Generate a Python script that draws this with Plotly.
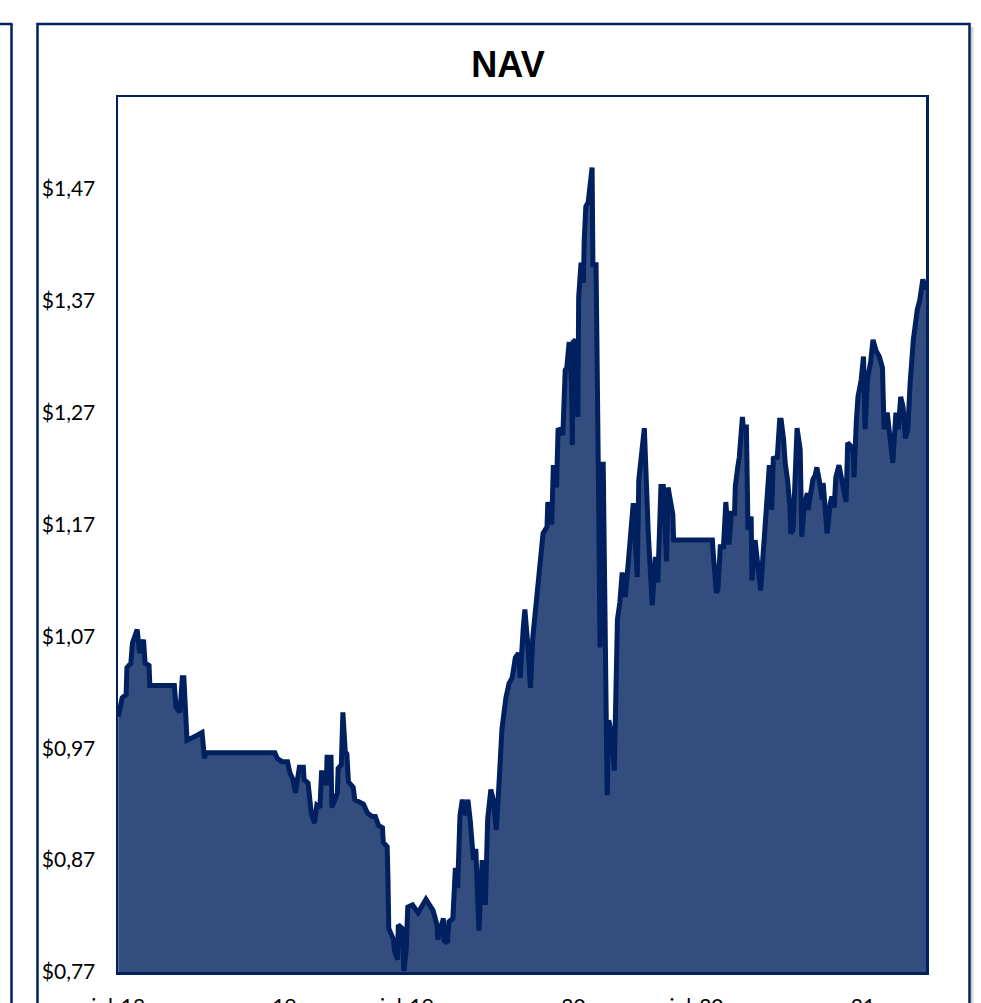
import plotly.graph_objects as go

dates = [
    "2018-07-01", "2018-07-06", "2018-07-11", "2018-07-12", "2018-07-17", "2018-07-19", "2018-07-25", "2018-07-28",
    "2018-08-02", "2018-08-04", "2018-08-09", "2018-08-10", "2018-09-10", "2018-09-12", "2018-09-17", "2018-09-20",
    "2018-09-22", "2018-09-26", "2018-10-10", "2018-10-15", "2018-10-18", "2018-10-20", "2019-01-15", "2019-01-18",
    "2019-01-24", "2019-01-31", "2019-02-03", "2019-02-07", "2019-02-10", "2019-02-15", "2019-02-20", "2019-02-21",
    "2019-02-26", "2019-03-02", "2019-03-06", "2019-03-09", "2019-03-13", "2019-03-15", "2019-03-17", "2019-03-21",
    "2019-03-22", "2019-03-27", "2019-03-28", "2019-04-04", "2019-04-05", "2019-04-09", "2019-04-11", "2019-04-14",
    "2019-04-16", "2019-04-18", "2019-04-24", "2019-04-26", "2019-05-07", "2019-05-12", "2019-05-18", "2019-05-22",
    "2019-05-26", "2019-05-31", "2019-06-01", "2019-06-06", "2019-06-07", "2019-06-08", "2019-06-14", "2019-06-15",
    "2019-06-19", "2019-06-20", "2019-06-25", "2019-06-27", "2019-06-30", "2019-07-02", "2019-07-08", "2019-07-15",
    "2019-07-25", "2019-08-03", "2019-08-08", "2019-08-09", "2019-08-16", "2019-08-17", "2019-08-21", "2019-08-23",
    "2019-08-28", "2019-08-31", "2019-09-02", "2019-09-03", "2019-09-06", "2019-09-09", "2019-09-13", "2019-09-16",
    "2019-09-19", "2019-09-23", "2019-09-26", "2019-09-30", "2019-10-04", "2019-10-08", "2019-10-11", "2019-10-15",
    "2019-10-18", "2019-10-22", "2019-10-27", "2019-10-29", "2019-11-03", "2019-11-07", "2019-11-11", "2019-11-15",
    "2019-11-19", "2019-11-21", "2019-11-25", "2019-11-27", "2019-12-01", "2019-12-04", "2019-12-07", "2019-12-12",
    "2019-12-16", "2019-12-20", "2019-12-25", "2019-12-26", "2019-12-31", "2020-01-02", "2020-01-06", "2020-01-08",
    "2020-01-14", "2020-01-15", "2020-01-17", "2020-01-19", "2020-01-22", "2020-01-25", "2020-01-26", "2020-01-27",
    "2020-01-30", "2020-02-02", "2020-02-03", "2020-02-06", "2020-02-09", "2020-02-10", "2020-02-12", "2020-02-15",
    "2020-02-16", "2020-02-20", "2020-02-21", "2020-02-25", "2020-02-28", "2020-03-01", "2020-03-05", "2020-03-07",
    "2020-03-10", "2020-03-12", "2020-03-16", "2020-03-19", "2020-03-21", "2020-03-23", "2020-03-26", "2020-03-29",
    "2020-04-02", "2020-04-07", "2020-04-12", "2020-04-17", "2020-04-19", "2020-04-26", "2020-05-01", "2020-05-06",
    "2020-05-10", "2020-05-13", "2020-05-17", "2020-05-20", "2020-05-24", "2020-05-26", "2020-06-01", "2020-06-02",
    "2020-07-21", "2020-07-22", "2020-07-26", "2020-07-28", "2020-07-31", "2020-08-04", "2020-08-05", "2020-08-07",
    "2020-08-11", "2020-08-14", "2020-08-18", "2020-08-19", "2020-08-22", "2020-08-24", "2020-08-28", "2020-08-29",
    "2020-09-02", "2020-09-04", "2020-09-08", "2020-09-09", "2020-09-13", "2020-09-16", "2020-09-20", "2020-09-22",
    "2020-09-26", "2020-09-29", "2020-10-01", "2020-10-04", "2020-10-06", "2020-10-11", "2020-10-14", "2020-10-16",
    "2020-10-19", "2020-10-21", "2020-10-24", "2020-10-27", "2020-10-28", "2020-10-31", "2020-11-05", "2020-11-09",
    "2020-11-11", "2020-11-14", "2020-11-18", "2020-11-19", "2020-11-25", "2020-11-28", "2020-11-30", "2020-12-03",
    "2020-12-07", "2020-12-08", "2020-12-10", "2020-12-13", "2020-12-17", "2020-12-19", "2020-12-22", "2020-12-24",
    "2020-12-28", "2021-01-01", "2021-01-02", "2021-01-06", "2021-01-08", "2021-01-12", "2021-01-15", "2021-01-16",
    "2021-01-19", "2021-01-21", "2021-01-25", "2021-01-28", "2021-01-30", "2021-02-02", "2021-02-06", "2021-02-09",
    "2021-02-13", "2021-02-17", "2021-02-21", "2021-02-23", "2021-02-27", "2021-03-04", "2021-03-06", "2021-03-10",
    "2021-03-13", "2021-03-16", "2021-03-19", "2021-03-22", "2021-03-25", "2021-03-28", "2021-04-01", "2021-04-06",
    "2021-04-09", "2021-04-13", "2021-04-17",
]

nav = [
    0.998, 1.015, 1.018, 1.042, 1.046, 1.064, 1.076, 1.055,
    1.067, 1.046, 1.044, 1.026, 1.026, 1.007, 1.002, 1.033,
    1.033, 0.977, 0.982, 0.984, 0.961, 0.966, 0.966, 0.961,
    0.958, 0.958, 0.948, 0.942, 0.930, 0.953, 0.953, 0.942,
    0.939, 0.912, 0.903, 0.919, 0.917, 0.948, 0.948, 0.937,
    0.962, 0.962, 0.917, 0.930, 0.952, 0.955, 1.002, 0.967,
    0.965, 0.940, 0.935, 0.924, 0.920, 0.912, 0.909, 0.909,
    0.901, 0.899, 0.886, 0.882, 0.852, 0.809, 0.799, 0.790,
    0.781, 0.812, 0.809, 0.771, 0.790, 0.828, 0.830, 0.823,
    0.835, 0.825, 0.812, 0.799, 0.818, 0.798, 0.796, 0.815,
    0.818, 0.861, 0.861, 0.845, 0.910, 0.924, 0.910, 0.924,
    0.905, 0.870, 0.880, 0.807, 0.870, 0.830, 0.907, 0.933,
    0.924, 0.897, 0.960, 0.987, 1.015, 1.028, 1.033, 1.051,
    1.055, 1.033, 1.078, 1.094, 1.060, 1.024, 1.069, 1.104,
    1.129, 1.162, 1.168, 1.190, 1.170, 1.223, 1.203, 1.256,
    1.250, 1.283, 1.308, 1.310, 1.333, 1.296, 1.241, 1.333,
    1.335, 1.266, 1.373, 1.404, 1.386, 1.424, 1.454, 1.458,
    1.467, 1.489, 1.402, 1.402, 1.207, 1.060, 1.226, 1.105,
    0.928, 0.995, 0.982, 0.950, 1.060, 1.085, 1.100, 1.127,
    1.105, 1.145, 1.189, 1.123, 1.210, 1.256, 1.162, 1.098,
    1.141, 1.118, 1.204, 1.204, 1.137, 1.203, 1.179, 1.156,
    1.156, 1.145, 1.109, 1.112, 1.150, 1.150, 1.171, 1.190,
    1.152, 1.180, 1.180, 1.204, 1.221, 1.230, 1.266, 1.257,
    1.257, 1.165, 1.177, 1.120, 1.156, 1.132, 1.111, 1.132,
    1.180, 1.204, 1.223, 1.183, 1.229, 1.230, 1.263, 1.263,
    1.246, 1.225, 1.210, 1.186, 1.162, 1.165, 1.256, 1.237,
    1.159, 1.186, 1.198, 1.183, 1.210, 1.214, 1.221, 1.210,
    1.192, 1.207, 1.186, 1.162, 1.189, 1.195, 1.185, 1.212,
    1.223, 1.210, 1.204, 1.190, 1.243, 1.240, 1.234, 1.212,
    1.263, 1.284, 1.299, 1.320, 1.255, 1.300, 1.315, 1.335,
    1.325, 1.320, 1.310, 1.255, 1.270, 1.243, 1.225, 1.270,
    1.255, 1.284, 1.275, 1.247, 1.255, 1.297, 1.335, 1.362,
    1.370, 1.389, 1.380,
]

y_tickvals = [0.77, 0.87, 0.97, 1.07, 1.17, 1.27, 1.37, 1.47]
y_ticktext = ["$0,77", "$0,87", "$0,97", "$1,07", "$1,17", "$1,27", "$1,37", "$1,47"]
x_tickvals = ["2018-07-01", "2019-01-01", "2019-07-01", "2020-01-01", "2020-07-01", "2021-01-01"]
x_ticktext = ["jul-18", "ene-19", "jul-19", "ene-20", "jul-20", "ene-21"]

NAVY = "#002060"
FILL = "#334E7E"

fig = go.Figure()
fig.add_trace(go.Scatter(
    x=dates, y=nav, mode="lines", fill="tozeroy",
    fillcolor=FILL, line=dict(color=NAVY, width=5), hoverinfo="skip",
))

W, H = 981, 1003
L, R, T, B = 118, 926, 97, 972

def px(x):
    return (x - L) / (R - L)

def py(y):
    return (B - y) / (B - T)

shapes = []
# outer frame of this panel
shapes.append(dict(type="rect", xref="paper", yref="paper",
                   x0=px(37.5), x1=px(969.5), y0=py(1020), y1=py(24),
                   line=dict(color=NAVY, width=2.5), fillcolor="rgba(0,0,0,0)", layer="below"))
# shadow on right edge
for i, op in enumerate([0.35, 0.22, 0.12, 0.05]):
    shapes.append(dict(type="line", xref="paper", yref="paper",
                       x0=px(971.5 + i), x1=px(971.5 + i), y0=py(1020), y1=py(27),
                       line=dict(color="rgba(90,90,90,%.2f)" % op, width=1), layer="below"))
# neighbouring panel edge at the left
shapes.append(dict(type="line", xref="paper", yref="paper",
                   x0=px(11.5), x1=px(11.5), y0=py(1020), y1=py(24),
                   line=dict(color=NAVY, width=2.5)))
shapes.append(dict(type="line", xref="paper", yref="paper",
                   x0=px(-5), x1=px(12.5), y0=py(24), y1=py(24),
                   line=dict(color=NAVY, width=2.5)))

fig.update_layout(
    width=W, height=H,
    margin=dict(l=L, r=W - R, t=T, b=H - B, pad=0, autoexpand=False),
    paper_bgcolor="white", plot_bgcolor="white",
    showlegend=False,
    title=dict(text="<b>NAV</b>", x=508 / W, xanchor="center", y=1 - 64 / H, yanchor="middle",
               automargin=False,
               font=dict(family="Liberation Sans, Arial, sans-serif", size=36, color="black")),
    shapes=shapes,
    xaxis=dict(
        type="date", range=["2018-06-30 18:00", "2021-04-17"],
        tickvals=x_tickvals, ticktext=x_ticktext,
        showgrid=False, zeroline=False, automargin=False,
        showline=True, linecolor=NAVY, linewidth=2.5, mirror=True,
        ticks="outside", ticklen=14, tickcolor="rgba(0,0,0,0)",
        tickfont=dict(family="Lato, Carlito, Calibri, sans-serif", size=21, color="black"),
    ),
    yaxis=dict(
        range=[0.77, 1.552],
        tickvals=y_tickvals, ticktext=y_ticktext,
        showgrid=False, zeroline=False, automargin=False,
        showline=True, linecolor=NAVY, linewidth=2.5, mirror=True,
        ticks="outside", ticklen=16, tickcolor="rgba(0,0,0,0)",
        tickfont=dict(family="Lato, Carlito, Calibri, sans-serif", size=21, color="black"),
    ),
)

fig.write_html("out.html", config={"displayModeBar": False, "staticPlot": True},
               post_script="document.body.style.margin='0';document.body.style.overflow='hidden';")
